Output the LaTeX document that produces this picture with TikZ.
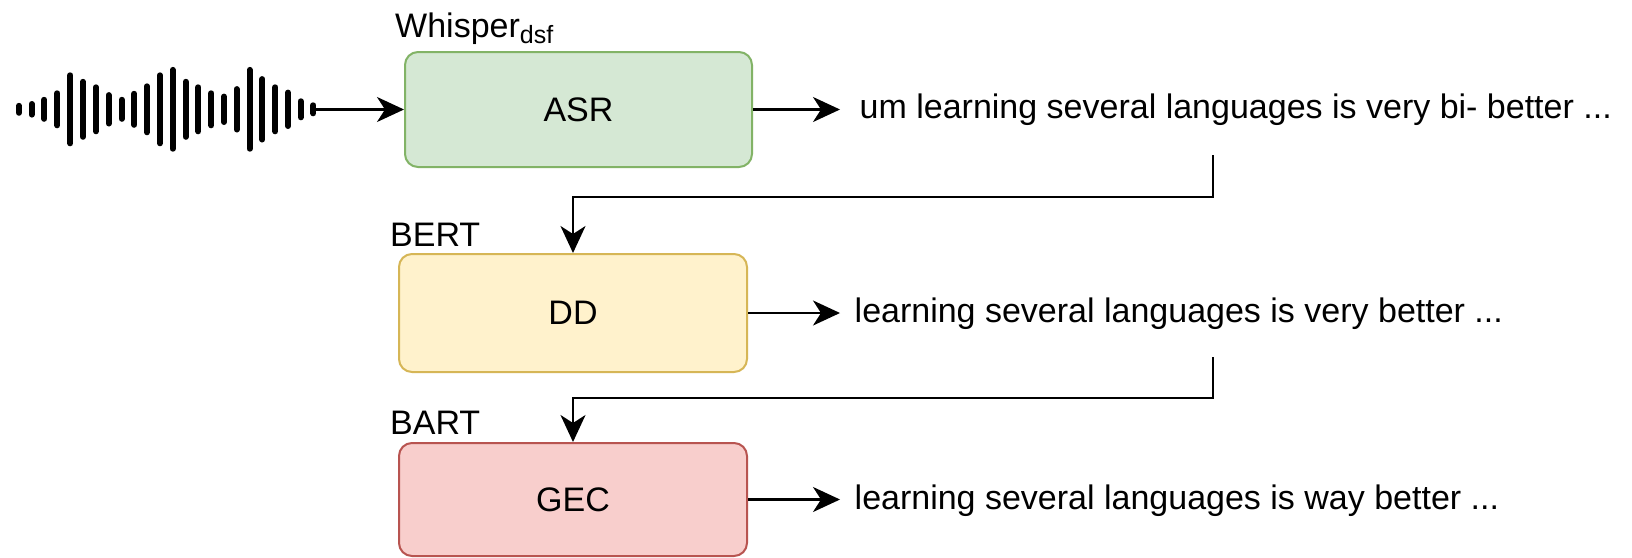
\documentclass[tikz,border=0pt]{standalone}
\usepackage{fontspec}
\setmainfont{Liberation Sans}
\usetikzlibrary{arrows.meta}
\definecolor{gfill}{HTML}{D5E8D4}\definecolor{gline}{HTML}{82B366}
\definecolor{yfill}{HTML}{FFF2CC}\definecolor{yline}{HTML}{D6B656}
\definecolor{rfill}{HTML}{F8CECC}\definecolor{rline}{HTML}{B85450}
\begin{document}
\begin{tikzpicture}[x=1pt,y=-1pt,
  every node/.style={inner sep=0pt},
  big/.style={font=\fontsize{34}{40}\selectfont},
  stage/.style={draw, line width=2pt, rounded corners=13pt, minimum width=347pt, minimum height=115pt, font=\fontsize{34}{40}\selectfont},
  conn/.style={line width=2.2pt, -{Stealth[length=27pt,width=25pt,inset=8pt]}},
  bar/.style={line width=6pt, line cap=round}]
\fill[white] (0,0) rectangle (1632,557);
\useasboundingbox (0,0) rectangle (1632,557);
% waveform
\foreach \x/\h in {19/3.5, 31.7/5.3, 44.3/9.5, 57.3/16, 70.3/34, 83/27.5, 96/22, 108.7/14.2, 121.7/9.5, 134.3/15.5, 147/23, 160/34, 172.7/39.4, 185.7/27.5, 198.3/22, 211.3/16, 224/12.7, 236.7/20.2, 249.7/39.4, 262.3/30.2, 275.3/22, 288/16.7, 300.7/8, 313.3/4}
  \draw[bar] (\x,{109.3-\h}) -- (\x,{109.3+\h});
\coordinate (wend) at (316,109.5);
% stages
\node[stage, fill=gfill, draw=gline] (asr) at (578.5,109.5) {ASR};
\node[stage, fill=yfill, draw=yline, minimum width=348pt, minimum height=118pt] (dd) at (573,313) {DD};
\node[stage, fill=rfill, draw=rline, minimum width=348pt, minimum height=113pt] (gec) at (573,499.5) {GEC};
% model labels
\node[big, anchor=base west] (wlab) at (395,37.3) {Whisper\raisebox{-6pt}{\fontsize{25}{28}\selectfont dsf}};
\node[big, anchor=base west] (bert) at (390,246.7) {BERT};
\node[big, anchor=base west] (bart) at (390,434.3) {BART};
% outputs
\node[big, anchor=base west] (t1) at (859.5,118.5) {um learning several languages is very bi- better ...};
\node[big, anchor=base west] (t2) at (854.5,322.5) {learning several languages is very better ...};
\node[big, anchor=base west] (t3) at (854.5,509) {learning several languages is way better ...};
% connectors
\draw[conn] (wend) -- (asr.west);
\draw[conn, shorten >=19.5pt] (asr.east) -- (asr.east -| t1.west);
\draw[conn, shorten >=14.5pt] (dd.east) -- (dd.east -| t2.west);
\draw[conn, shorten >=14.5pt] (gec.east) -- (gec.east -| t3.west);
\coordinate (c1) at (1213,155);
\coordinate (k1) at (1213,197);
\coordinate (c2) at (1213,357);
\coordinate (k2) at (1213,398);
\draw[conn] (c1) -- (k1) -| (dd.north);
\draw[conn] (c2) -- (k2) -| (gec.north);
\end{tikzpicture}
\end{document}
